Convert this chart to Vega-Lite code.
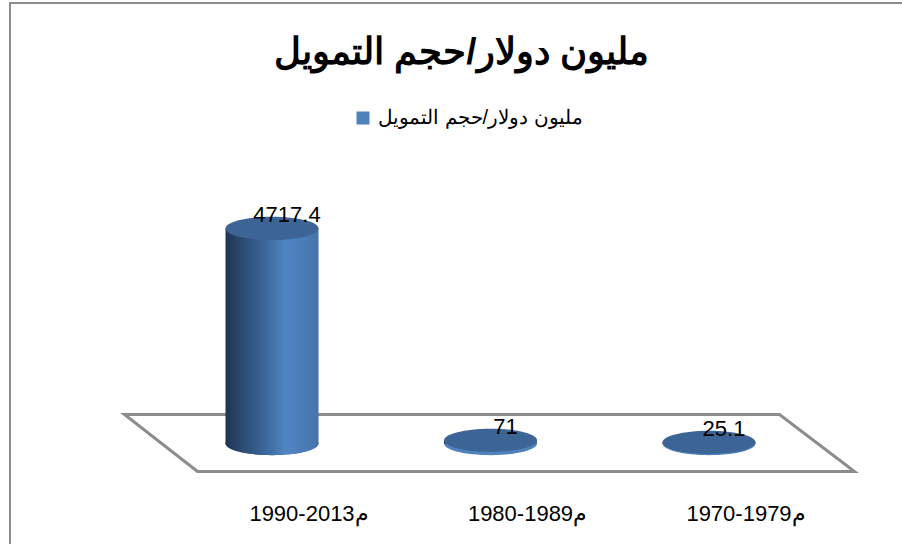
{"$schema":"https://vega.github.io/schema/vega-lite/v6.json","width":895,"height":545,"autosize":"none","padding":{"left":10,"top":3,"right":0,"bottom":0},"background":"white","view":{"stroke":"#8c8c8c","strokeWidth":2,"fill":"white"},"title":{"text":"مليون دولار/حجم التمويل","font":"Liberation Sans","fontSize":37,"fontWeight":"bold","color":"black","anchor":"middle","frame":"group","baseline":"top","offset":-69,"dx":4},"data":{"values":[{"period":"1990-2013م","value":4717.4,"series":"مليون دولار/حجم التمويل"},{"period":"1980-1989م","value":71,"series":"مليون دولار/حجم التمويل"},{"period":"1970-1979م","value":25.1,"series":"مليون دولار/حجم التمويل"}]},"encoding":{"x":{"field":"period","type":"nominal","sort":["1990-2013م","1980-1989م","1970-1979م"],"scale":{"type":"band","range":[152.75,808.25],"padding":0},"axis":{"title":null,"labelAngle":0,"domain":false,"ticks":false,"labelFont":"Liberation Sans","labelFontSize":22,"labelColor":"black","labelOffset":37,"labelPadding":0,"offset":-35,"labelBaseline":"middle","grid":false}},"y":{"field":"value","type":"quantitative","scale":{"domain":[0,5000],"range":[440.5,212.6],"nice":false},"axis":null}},"layer":[{"transform":[{"filter":"datum.value==71"}],"mark":{"type":"point","filled":true,"fill":"white","stroke":"#8c8c8c","strokeWidth":3,"fillOpacity":1,"opacity":1,"size":40000,"shape":"M-3.66,-0.29L2.89,-0.29L3.64,0.28L-2.93,0.28Z"},"encoding":{"y":{"datum":0}}},{"mark":{"type":"point","filled":true,"opacity":1,"size":8649,"shape":"M-1,0A1,0.25 0 1 1 1,0A1,0.25 0 1 1 -1,0Z"},"encoding":{"y":{"datum":0},"color":{"field":"series","type":"nominal","scale":{"range":["#4f81bd"]},"legend":{"title":null,"orient":"none","legendX":343,"legendY":105,"symbolType":"square","symbolSize":169,"symbolOpacity":1,"symbolStrokeWidth":0,"labelFont":"Liberation Sans","labelFontSize":20,"labelColor":"black","labelLimit":400,"labelOffset":5}}}},{"transform":[{"filter":"datum.value>1000"}],"mark":{"type":"point","filled":true,"opacity":1,"size":8649,"shape":"M-1,0A1,0.25 0 1 1 1,0A1,0.25 0 1 1 -1,0Z","fill":{"gradient":"linear","x1":0,"y1":0,"x2":1,"y2":0,"stops":[{"offset":0,"color":"#1f3552"},{"offset":0.4,"color":"#3a6497"},{"offset":0.65,"color":"#5085c4"},{"offset":1,"color":"#4574ab"}]}},"encoding":{"y":{"datum":0}}},{"mark":{"type":"bar","size":93,"fill":{"gradient":"linear","x1":0,"y1":0,"x2":1,"y2":0,"stops":[{"offset":0,"color":"#1f3552"},{"offset":0.4,"color":"#3a6497"},{"offset":0.65,"color":"#5085c4"},{"offset":1,"color":"#4574ab"}]}}},{"mark":{"type":"point","filled":true,"fill":"#3c6595","opacity":1,"size":8649,"shape":"M-1,0A1,0.25 0 1 1 1,0A1,0.25 0 1 1 -1,0Z"}},{"mark":{"type":"text","font":"Liberation Sans","fontSize":22,"color":"black","dx":15,"dy":-13,"baseline":"middle","align":"center"},"encoding":{"text":{"field":"value","type":"quantitative","format":".5~f"}}}]}
